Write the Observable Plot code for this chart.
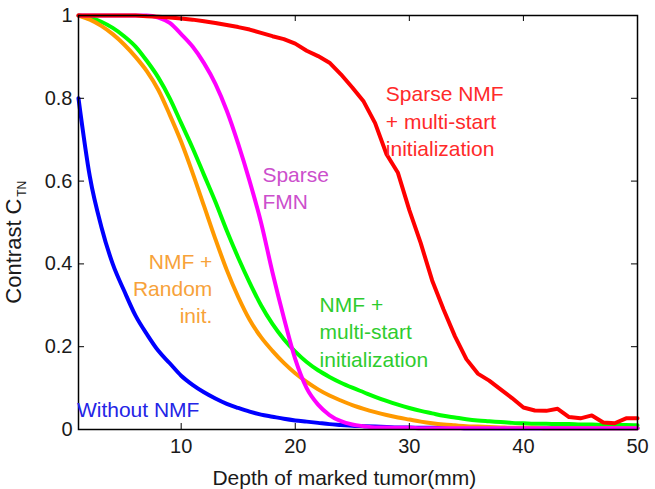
<!DOCTYPE html>
<html>
<head>
<meta charset="utf-8">
<script src="https://cdn.jsdelivr.net/npm/d3@7"></script>
<script src="https://cdn.jsdelivr.net/npm/@observablehq/plot@0.6"></script>
<style>
  html, body { margin: 0; padding: 0; background: #fff; }
  svg { display: block; }
</style>
</head>
<body>
<div id="chart"></div>
<script>
const depth = [1,2,3,4,5,6,7,8,9,10,11,12,13,14,15,16,17,18,19,20,21,22,23,24,25,26,27,28,29,30,31,32,33,34,35,36,37,38,39,40,41,42,43,44,45,46,47,48,49,50];

const withoutNMF = [0.80,0.61,0.49,0.40,0.335,0.275,0.23,0.19,0.16,0.13,0.108,0.09,0.075,0.062,0.052,0.043,0.036,0.031,0.026,0.022,0.019,0.016,0.013,0.011,0.009,0.008,0.007,0.006,0.005,0.005,0.004,0.004,0.004,0.004,0.003,0.003,0.003,0.003,0.003,0.003,0.003,0.003,0.003,0.003,0.003,0.003,0.003,0.003,0.003,0.003];

const nmfRandom = [1.0,0.99,0.975,0.955,0.93,0.90,0.865,0.82,0.76,0.695,0.62,0.54,0.46,0.385,0.32,0.265,0.223,0.19,0.161,0.136,0.115,0.097,0.082,0.07,0.059,0.05,0.042,0.035,0.029,0.024,0.019,0.015,0.012,0.01,0.008,0.007,0.006,0.005,0.004,0.004,0.004,0.003,0.003,0.003,0.003,0.003,0.003,0.003,0.003,0.003];

const nmfMulti = [1.0,0.995,0.985,0.97,0.95,0.925,0.89,0.85,0.80,0.74,0.68,0.615,0.55,0.48,0.415,0.355,0.30,0.255,0.218,0.188,0.163,0.143,0.127,0.113,0.101,0.09,0.079,0.069,0.06,0.052,0.045,0.039,0.033,0.029,0.025,0.022,0.02,0.018,0.016,0.015,0.014,0.014,0.013,0.013,0.012,0.012,0.011,0.011,0.011,0.010];

const sparseFMN = [1.0,1.0,1.0,1.0,1.0,1.0,1.0,0.995,0.982,0.955,0.925,0.885,0.835,0.77,0.69,0.60,0.50,0.38,0.27,0.17,0.10,0.06,0.035,0.02,0.012,0.008,0.005,0.005,0.004,0.004,0.003,0.003,0.003,0.003,0.003,0.003,0.003,0.003,0.003,0.003,0.003,0.003,0.003,0.003,0.003,0.003,0.003,0.003,0.003,0.003];

const sparseNMFMulti = [1.0,1.0,1.0,1.0,1.0,1.0,0.998,0.997,0.995,0.993,0.99,0.986,0.982,0.977,0.972,0.966,0.958,0.95,0.943,0.932,0.915,0.902,0.886,0.858,0.826,0.792,0.74,0.665,0.62,0.53,0.45,0.36,0.29,0.225,0.17,0.135,0.118,0.097,0.076,0.053,0.046,0.045,0.05,0.03,0.027,0.034,0.017,0.015,0.027,0.027];

const seriesNames = ["Without NMF", "NMF + multi-start initialization", "NMF + Random init.", "Sparse FMN", "Sparse NMF + multi-start initialization"];
const seriesValues = [withoutNMF, nmfMulti, nmfRandom, sparseFMN, sparseNMFMulti];
const lineColors = ["#0000ff", "#00ff00", "#ff9900", "#ff00ff", "#ff0000"];

const xTicks = [10, 20, 30, 40, 50];
const yTicks = [0, 0.2, 0.4, 0.6, 0.8, 1];

const annotations = [
  {text: "Sparse NMF\n+ multi-start\ninitialization", x: 27.94, y: 0.748, anchor: "start", color: "#ff2a2a"},
  {text: "Sparse\nFMN", x: 17.12, y: 0.586, anchor: "start", color: "#cc4fcc"},
  {text: "NMF +\nRandom\ninit.", x: 12.73, y: 0.344, anchor: "end", color: "#f7a23a"},
  {text: "NMF +\nmulti-start\ninitialization", x: 22.13, y: 0.239, anchor: "start", color: "#2ecc2e"},
  {text: "Without NMF", x: 0.86, y: 0.051, anchor: "start", color: "#2424e6"}
];

const rows = seriesNames.flatMap((name, s) =>
  seriesValues[s].map((v, i) => ({depth: depth[i], value: v, series: name})));
const smoothRows = rows.filter(d => d.series !== seriesNames[4]);
const redRows = rows.filter(d => d.series === seriesNames[4]);

const font = "'Liberation Sans', Arial, Helvetica, sans-serif";

const chart = Plot.plot({
  width: 655,
  height: 489,
  marginLeft: 78,
  marginRight: 18,
  marginTop: 15,
  marginBottom: 60,
  style: {fontFamily: font, background: "#fff", color: "#1a1a1a"},
  x: {domain: [1, 50]},
  y: {domain: [0, 1]},
  color: {domain: seriesNames, range: lineColors},
  marks: [
    Plot.line(smoothRows, {x: "depth", y: "value", z: "series", stroke: "series", strokeWidth: 4, curve: "monotone-x", strokeLinejoin: "round"}),
    Plot.line(redRows, {x: "depth", y: "value", z: "series", stroke: "series", strokeWidth: 4, curve: "linear", strokeLinejoin: "round"}),
    Plot.frame({stroke: "#000", strokeWidth: 1.5}),
    // inward ticks
    Plot.ruleX(xTicks, {x: d => d, y1: 0, y2: 0.0145, stroke: "#000"}),
    Plot.ruleX(xTicks, {x: d => d, y1: 1, y2: 1 - 0.0145, stroke: "#000"}),
    Plot.ruleY(yTicks, {y: d => d, x1: 1, x2: 1.53, stroke: "#000"}),
    Plot.ruleY(yTicks, {y: d => d, x1: 50, x2: 50 - 0.53, stroke: "#000"}),
    Plot.axisX({ticks: xTicks, tickSize: 0, tickPadding: 9, fontSize: 20, label: null, tickFormat: d => String(d)}),
    Plot.axisY({ticks: yTicks, tickSize: 0, tickPadding: 6, fontSize: 20, label: null, tickFormat: d => String(d)}),
    // axis titles
    Plot.text(["Depth of marked tumor(mm)"], {frameAnchor: "bottom", x: 24.3, dy: 49, lineAnchor: "middle", textAnchor: "middle", fontSize: 21, fill: "#1a1a1a"}),
    Plot.text(["Contrast C"], {frameAnchor: "left", y: 0.431, dx: -58, rotate: -90, textAnchor: "middle", lineAnchor: "bottom", fontSize: 22, fill: "#1a1a1a"}),
    Plot.text(["TN"], {frameAnchor: "left", y: 0.562, dx: -52.5, rotate: -90, textAnchor: "start", lineAnchor: "bottom", fontSize: 12, fill: "#1a1a1a"}),
    // series labels
    Plot.text(annotations.filter(d => d.anchor === "start"), {x: "x", y: "y", text: "text", textAnchor: "start", fill: d => d.color, lineAnchor: "middle", lineHeight: 1.3, fontSize: 21}),
    Plot.text(annotations.filter(d => d.anchor === "end"), {x: "x", y: "y", text: "text", textAnchor: "end", fill: d => d.color, lineAnchor: "middle", lineHeight: 1.3, fontSize: 21})
  ]
});

document.getElementById("chart").appendChild(chart);
</script>
</body>
</html>
